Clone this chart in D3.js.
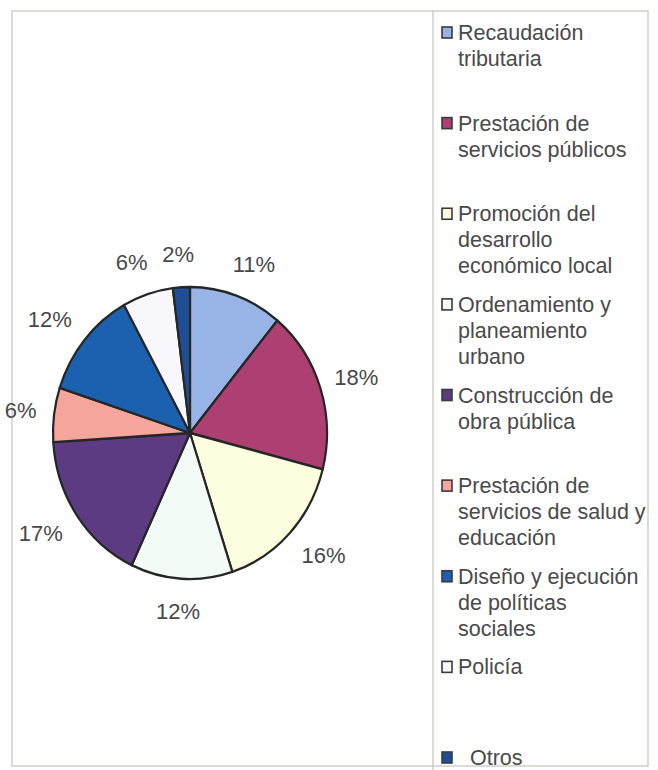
<!DOCTYPE html>
<html>
<head>
<meta charset="utf-8">
<script src="https://cdn.jsdelivr.net/npm/d3@7"></script>
<style>
  html, body { margin: 0; padding: 0; background: #ffffff; }
  svg { display: block; }
  text { font-family: "Liberation Sans", Arial, sans-serif; }
</style>
</head>
<body>
<svg id="chart" width="658" height="770"></svg>
<script>
// Slice categories, in clockwise order starting at 12 o'clock
const categories = [
  "Recaudación tributaria",
  "Prestación de servicios públicos",
  "Promoción del desarrollo económico local",
  "Ordenamiento y planeamiento urbano",
  "Construcción de obra pública",
  "Prestación de servicios de salud y educación",
  "Diseño y ejecución de políticas sociales",
  "Policía",
  "Otros"
];

// Share of each category, in percent
const values = [11, 18, 16, 12, 17, 6, 12, 6, 2];

// Legend text, already broken into lines
const legendLines = [
  ["Recaudación", "tributaria"],
  ["Prestación de", "servicios públicos"],
  ["Promoción del", "desarrollo", "económico local"],
  ["Ordenamiento y", "planeamiento", "urbano"],
  ["Construcción de", "obra pública"],
  ["Prestación de", "servicios de salud y", "educación"],
  ["Diseño y ejecución", "de políticas", "sociales"],
  ["Policía"],
  ["\u00a0\u00a0Otros"]
];

const sliceColors = [
  "#98b4e6", "#ae3f72", "#fdfde0", "#f3fbf7", "#5d3b82",
  "#f5a59c", "#1b61b0", "#f8f8fc", "#1e4f94"
];

const data = categories.map((c, i) => ({ name: c, value: values[i], lines: legendLines[i] }));

const svg = d3.select("#chart");

// Outer chart frame and legend box
const frame = { x0: 12, y0: 11, x1: 648, y1: 766 };
svg.append("rect")
  .attr("x", frame.x0).attr("y", frame.y0)
  .attr("width", frame.x1 - frame.x0).attr("height", frame.y1 - frame.y0)
  .attr("fill", "#ffffff").attr("stroke", "#c4c4bc").attr("stroke-width", 1.2);

const legendX = 433;
svg.append("line")
  .attr("x1", legendX).attr("x2", legendX)
  .attr("y1", frame.y0).attr("y2", 780)
  .attr("stroke", "#c4c4bc").attr("stroke-width", 1.2);

// Pie (slightly taller than wide)
const cx = 190, cy = 433, radius = 137, ky = 1.066;

const pie = d3.pie().sort(null).value(d => d.value);
const arcs = pie(data);
const arc = d3.arc().innerRadius(0).outerRadius(radius);

const pieG = svg.append("g")
  .attr("transform", `translate(${cx},${cy}) scale(1,${ky})`);

pieG.selectAll("path.slice")
  .data(arcs)
  .join("path")
  .attr("class", "slice")
  .attr("d", arc)
  .attr("fill", (d, i) => sliceColors[i])
  .attr("stroke", "#262626")
  .attr("stroke-width", 2.2)
  .attr("stroke-linejoin", "round");

// Percent labels outside the pie; labels near the vertical axis are
// nudged sideways so their boxes clear the rim
const labelRadius = 168;
const labelHalfW = 22;
svg.append("g").selectAll("text.pct")
  .data(arcs)
  .join("text")
  .attr("class", "pct")
  .attr("x", d => {
    const a = (d.startAngle + d.endAngle) / 2;
    return cx + labelRadius * Math.sin(a) + labelHalfW * Math.sin(a) * Math.abs(Math.cos(a));
  })
  .attr("y", d => {
    const a = (d.startAngle + d.endAngle) / 2;
    return cy - labelRadius * Math.cos(a) * ky;
  })
  .attr("dy", "0.35em")
  .attr("text-anchor", "middle")
  .attr("font-size", 22)
  .attr("fill", "#484848")
  .text(d => d3.format("d")(d.data.value) + "%");

// Legend
const legendY = d3.scaleLinear().domain([0, data.length - 1]).range([33, 758]);
const lineH = 26;

const items = svg.append("g").selectAll("g.item")
  .data(data)
  .join("g")
  .attr("class", "item")
  .attr("transform", (d, i) => `translate(0,${legendY(i)})`);

items.append("rect")
  .attr("x", 442).attr("y", -6)
  .attr("width", 10).attr("height", 11)
  .attr("fill", (d, i) => sliceColors[i])
  .attr("stroke", "#3a3a3a").attr("stroke-width", 1.6);

items.each(function(d) {
  const t = d3.select(this).append("text")
    .attr("x", 458).attr("y", 7)
    .attr("font-size", 21.5)
    .attr("fill", "#4a4a4a");
  d.lines.forEach((ln, j) => {
    t.append("tspan").attr("x", 458).attr("y", 7 + j * lineH).text(ln);
  });
});
</script>
</body>
</html>
